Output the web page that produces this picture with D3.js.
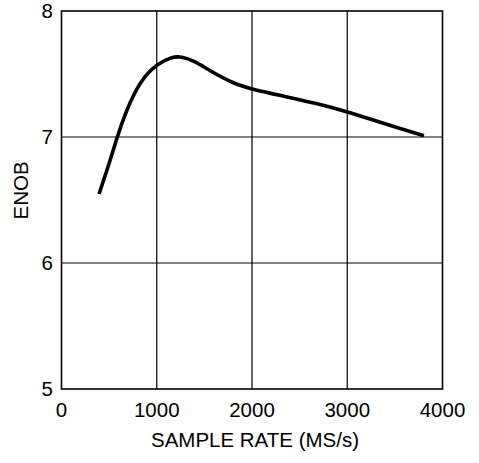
<!DOCTYPE html>
<html>
<head>
<meta charset="utf-8">
<script src="https://cdn.jsdelivr.net/npm/d3@7"></script>
<style>
  body { margin: 0; background: #fff; }
  svg { display: block; font-family: "Liberation Sans", Arial, sans-serif; }
  text { fill: #000; }
</style>
</head>
<body>
<svg id="chart" width="479" height="463"></svg>
<script>
// ENOB vs sample rate
var rate = [394, 490, 580, 670, 770, 880, 1000, 1150, 1260, 1390, 1560, 1800, 2000, 2330, 2680, 3000, 3270, 3550, 3805];
var enob = [6.548, 6.764, 6.99, 7.188, 7.36, 7.49, 7.575, 7.635, 7.64, 7.606, 7.525, 7.426, 7.379, 7.325, 7.267, 7.20, 7.135, 7.069, 7.01];
var xTicks = [0, 1000, 2000, 3000, 4000];
var yTicks = [5, 6, 7, 8];

var m = {left: 61.5, right: 442.5, top: 11, bottom: 389};
var svg = d3.select("#chart");

var x = d3.scaleLinear().domain([0, 4000]).range([m.left, m.right]);
var y = d3.scaleLinear().domain([5, 8]).range([m.bottom, m.top]);

// grid
svg.append("g").selectAll("line").data(xTicks.slice(1, -1)).join("line")
  .attr("x1", d => x(d)).attr("x2", d => x(d))
  .attr("y1", m.top).attr("y2", m.bottom)
  .attr("stroke", "#000").attr("stroke-width", 1.2);
svg.append("g").selectAll("line").data(yTicks.slice(1, -1)).join("line")
  .attr("x1", m.left).attr("x2", m.right)
  .attr("y1", d => y(d)).attr("y2", d => y(d))
  .attr("stroke", "#000").attr("stroke-width", 1.2);

// frame
svg.append("rect")
  .attr("x", m.left).attr("y", m.top)
  .attr("width", m.right - m.left).attr("height", m.bottom - m.top)
  .attr("fill", "none").attr("stroke", "#000").attr("stroke-width", 1.6);

// tick labels
svg.append("g").selectAll("text").data(xTicks).join("text")
  .attr("x", d => x(d)).attr("y", 417)
  .attr("text-anchor", "middle").attr("font-size", 20.5)
  .text(d => d);
svg.append("g").selectAll("text").data(yTicks).join("text")
  .attr("x", 53).attr("y", d => y(d) + 7)
  .attr("text-anchor", "end").attr("font-size", 20.5)
  .text(d => d);

// axis titles
svg.append("text").attr("x", 255).attr("y", 447.3)
  .attr("text-anchor", "middle").attr("font-size", 20.5)
  .text("SAMPLE RATE (MS/s)");
svg.append("text")
  .attr("transform", "translate(28,190.5) rotate(-90)")
  .attr("text-anchor", "middle").attr("font-size", 20.5)
  .text("ENOB");

// curve
var line = d3.line()
  .x((d, i) => x(rate[i]))
  .y(d => y(d))
  .curve(d3.curveBasis);
svg.append("path").datum(enob)
  .attr("d", line)
  .attr("fill", "none").attr("stroke", "#000")
  .attr("stroke-width", 3.6);
</script>
</body>
</html>
